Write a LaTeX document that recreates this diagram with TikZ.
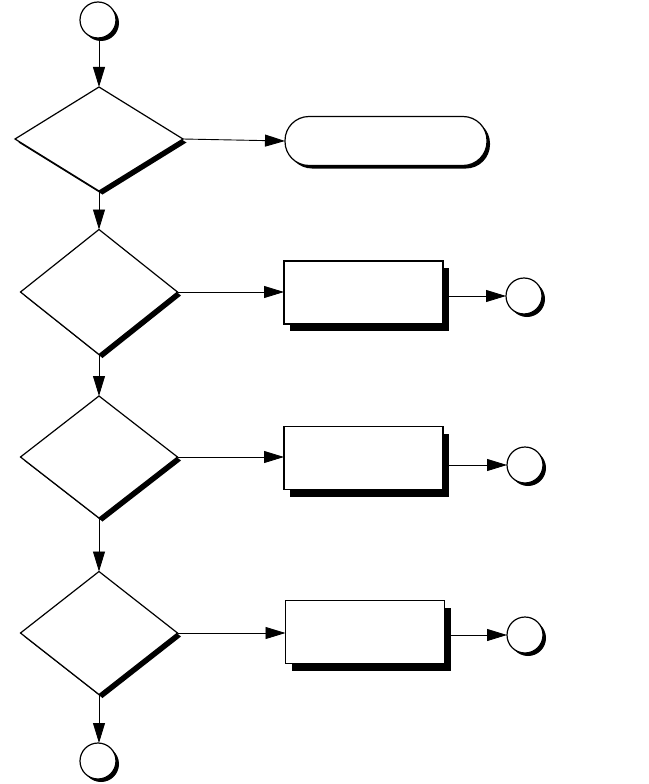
\documentclass[tikz,border=0pt]{standalone}
\usetikzlibrary{shapes.geometric,shadows,arrows.meta}
\begin{document}
\begin{tikzpicture}[x=1pt,y=-1pt,
  base/.style={draw=black,fill=white,line width=1.2pt,inner sep=0pt,outer sep=0pt},
  sh/.style={drop shadow={shadow xshift=#1pt,shadow yshift=-#1pt,fill=black,opacity=1,shadow scale=1}},
  decision/.style={base,diamond,sh=3.5,minimum width=#1},
  connector/.style={base,circle,sh=3,minimum size=36pt},
  process/.style={base,rectangle,minimum width=159pt,minimum height=63pt,
    drop shadow={shadow xshift=6pt,shadow yshift=-7pt,fill=black,opacity=1,shadow scale=1}},
  terminal/.style={base,rectangle,rounded corners=24pt,sh=3,minimum width=202pt,minimum height=49pt},
  flow/.style={line width=0.9pt,-{Triangle[length=20pt,width=12pt]}}
]
\useasboundingbox (0,0) rectangle (648,784);

\node[connector] (c0) at (98,20) {};
\node[decision=168pt,minimum height=104pt] (d1) at (99,139) {};
\node[terminal] (t1) at (386,141) {};

\node[decision=157pt,minimum height=125pt] (d2) at (99,292) {};
\node[process] (b2) at (363.5,292.5) {};
\node[connector] (c2) at (524,296) {};

\node[decision=157pt,minimum height=122pt] (d3) at (99,457) {};
\node[process] (b3) at (363.5,458) {};
\node[connector] (c3) at (525,465) {};

\node[decision=157pt,minimum height=123pt] (d4) at (99,633) {};
\node[process] (b4) at (365,632) {};
\node[connector] (c4) at (525,635) {};

\node[connector] (c5) at (98,761) {};

\draw[flow] (d1.north |- c0.south) -- (d1.north);
\draw[flow] (d1.east) -- (t1.west);
\draw[flow] (d1.south) -- (d2.north);
\draw[flow] (d2.east) -- (d2.east -| b2.west);
\draw[flow] (c2.west -| b2.east) -- (c2.west);
\draw[flow] (d2.south) -- (d3.north);
\draw[flow] (d3.east) -- (d3.east -| b3.west);
\draw[flow] (c3.west -| b3.east) -- (c3.west);
\draw[flow] (d3.south) -- (d4.north);
\draw[flow] (d4.east) -- (d4.east -| b4.west);
\draw[flow] (c4.west -| b4.east) -- (c4.west);
\draw[flow] (d4.south) -- (d4.south |- c5.north);
\end{tikzpicture}
\end{document}
